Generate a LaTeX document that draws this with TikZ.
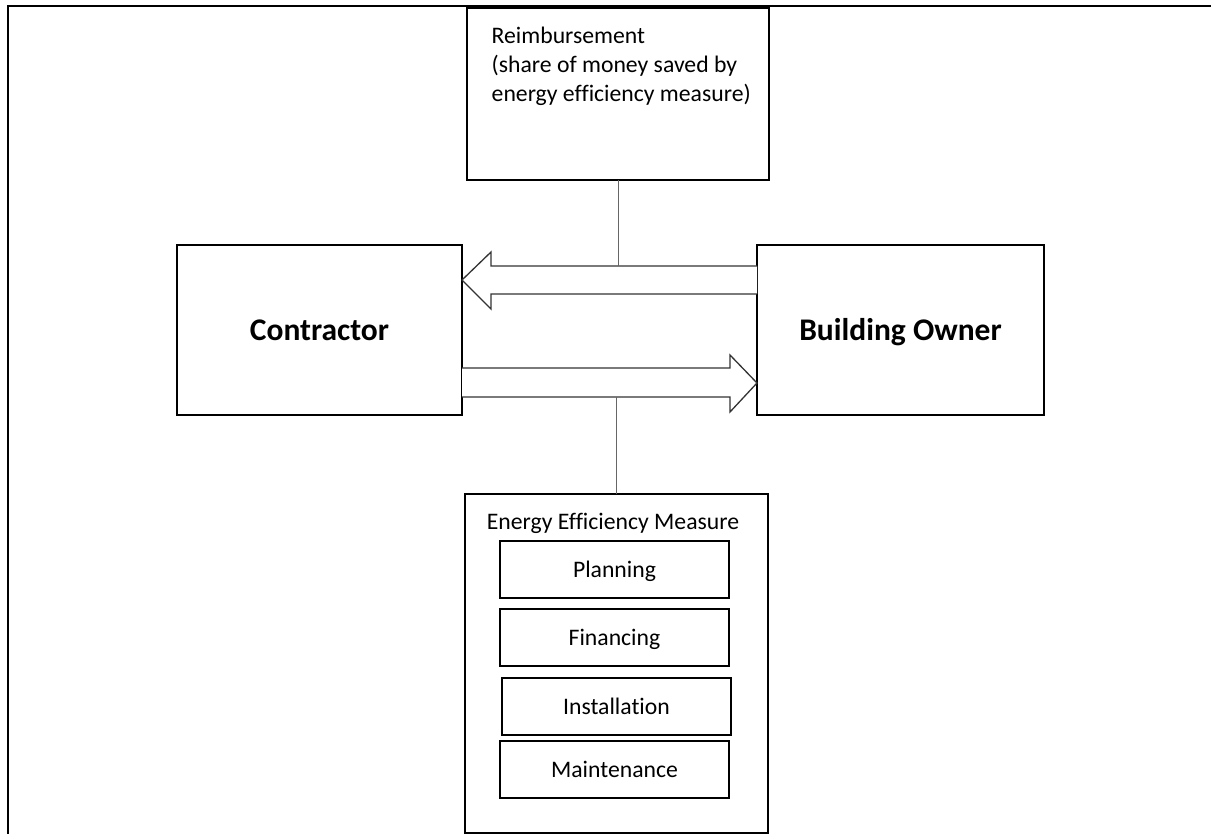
\documentclass[tikz,border=0pt]{standalone}
\usepackage{fontspec}
\setmainfont{Carlito}[Ligatures=CommonOff]
\begin{document}
\begin{tikzpicture}[x=1pt,y=-1pt,
  box/.style={draw=black, line width=1.6pt, inner sep=0pt, outer sep=0pt,
    anchor=north west},
  party/.style={box, font=\fontsize{31.5}{38}\selectfont\bfseries,
    text height=20.3pt, text depth=0pt},
  item/.style={box, minimum width=229pt, minimum height=57pt,
    font=\fontsize{23.7}{29}\selectfont, text height=15.2pt, text depth=0pt},
  barrow/.style={draw=black!80, line width=1.3pt, line join=miter, fill=white},
  link/.style={draw=black!60, line width=0.9pt}]
\useasboundingbox (0,0) rectangle (1211,834);

% page border (open on the right and bottom)
\draw[line width=2pt] (7.5,834) -- (7.5,6) -- (1211,6);

% the two parties
\node[party, minimum width=285pt, minimum height=170pt] (contractor) at (177,245) {Contractor};
\node[party, minimum width=287pt, minimum height=170pt] (owner) at (757,245) {Building Owner};

% reimbursement box
\node[box, minimum width=302pt, minimum height=172pt] (reimb) at (467,8.3) {};
\node[anchor=north west, inner sep=0pt, align=left,
      font=\fontsize{23.7}{29.3}\selectfont] (reimbtext) at (491.5,26.5)
  {Reimbursement\\(share of money saved by\\energy efficiency measure)};

% energy efficiency measure with its four parts
\node[box, minimum width=303pt, minimum height=339pt] (eem) at (465,494) {};
\node[anchor=base, inner sep=0pt, font=\fontsize{23.7}{29}\selectfont] (eemtitle) at (613,529.5)
  {Energy Efficiency Measure};
\node[item] (planning) at (500,541) {Planning};
\node[item] (financing) at (500,609) {Financing};
\node[item] (installation) at (502,678) {Installation};
\node[item] (maintenance) at (500,741) {Maintenance};

% block arrow: owner -> contractor (reimbursement)
\coordinate (rtop) at (619,266);
\draw[barrow] (owner.west |- rtop) -- (491,266) -- (491,252) -- (contractor.east |- 0,280)
  -- (491,309) -- (491,294) -- (owner.west |- 0,294);

% block arrow: contractor -> owner (measure)
\coordinate (mbot) at (617,397);
\draw[barrow] (contractor.east |- 0,368) -- (730,368) -- (730,355) -- (owner.west |- 0,383)
  -- (730,412) -- (730,397) -- (contractor.east |- mbot);

% thin links from the arrows to the boxes
\draw[link] (reimb.south) -- (reimb.south |- rtop);
\draw[link] (eem.north) -- (eem.north |- mbot);
\end{tikzpicture}
\end{document}
